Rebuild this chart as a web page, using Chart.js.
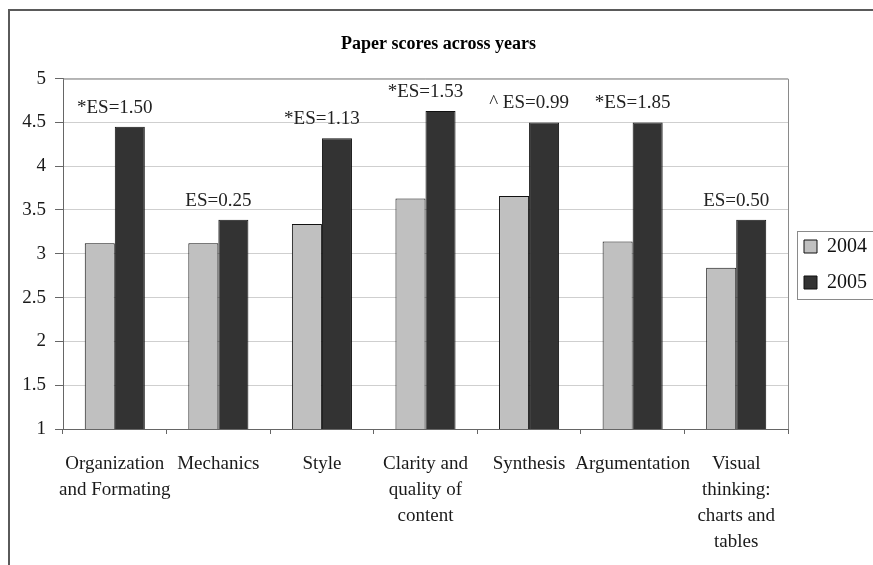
<!DOCTYPE html>
<html>
<head>
<meta charset="utf-8">
<script src="https://cdn.jsdelivr.net/npm/chart.js@4.4.1/dist/chart.umd.min.js"></script>
<style>
  html, body { margin: 0; padding: 0; background: #fff; }
</style>
</head>
<body>
<canvas id="paperScores" width="873" height="565"></canvas>
<script>
const categories = [
  ['Organization', 'and Formating'],
  'Mechanics',
  'Style',
  ['Clarity and', 'quality of', 'content'],
  'Synthesis',
  'Argumentation',
  ['Visual', 'thinking:', 'charts and', 'tables'],
];
const scores2004 = [3.12, 3.12, 3.34, 3.63, 3.66, 3.14, 2.84];
const scores2005 = [4.45, 3.39, 4.32, 4.63, 4.50, 4.50, 3.39];
const effectSizes = ['*ES=1.50', 'ES=0.25', '*ES=1.13', '*ES=1.53', '^ ES=0.99', '*ES=1.85', 'ES=0.50'];
const yTicks = [1, 1.5, 2, 2.5, 3, 3.5, 4, 4.5, 5];

const serif = 'Liberation Serif, Times New Roman, serif';

// outer chart frame (only the left and top edges fall inside the picture)
const framePlugin = {
  id: 'frame',
  afterLayout(chart) {
    // legend sits a bit above the middle of the plot in the original
    chart.legend.top -= 18;
    chart.legend.bottom -= 18;
  },
  beforeDraw(chart) {
    const ctx = chart.ctx;
    ctx.save();
    ctx.strokeStyle = '#5a5a5a';
    ctx.lineWidth = 2;
    ctx.beginPath();
    ctx.moveTo(9, chart.height);
    ctx.lineTo(9, 10);
    ctx.lineTo(chart.width, 10);
    ctx.stroke();
    ctx.restore();
  },
  beforeDatasetsDraw(chart) {
    const { ctx, chartArea: a } = chart;
    ctx.save();
    ctx.strokeStyle = '#8a8a8a';
    ctx.lineWidth = 1;
    ctx.beginPath();
    ctx.moveTo(a.left, a.top + 0.5);
    ctx.lineTo(a.right + 0.5, a.top + 0.5);
    ctx.lineTo(a.right + 0.5, a.bottom);
    ctx.stroke();
    ctx.restore();
  },
  afterDraw(chart) {
    const boxes = chart.legend && chart.legend.legendHitBoxes;
    if (!boxes || !boxes.length) return;
    const left = Math.min(...boxes.map(b => b.left)) - 7;
    const top = Math.min(...boxes.map(b => b.top)) - 6;
    const bottom = Math.max(...boxes.map(b => b.top + b.height)) + 6;
    const ctx = chart.ctx;
    ctx.save();
    ctx.strokeStyle = '#8a8a8a';
    ctx.lineWidth = 1;
    ctx.strokeRect(Math.round(left) + 0.5, Math.round(top) + 0.5, chart.width, Math.round(bottom - top));
    ctx.restore();
  },
};

// effect size notes above each category
const effectSizePlugin = {
  id: 'effectSizes',
  afterDatasetsDraw(chart) {
    const ctx = chart.ctx;
    const xScale = chart.scales.x;
    const m0 = chart.getDatasetMeta(0).data;
    const m1 = chart.getDatasetMeta(1).data;
    ctx.save();
    ctx.font = '19px ' + serif;
    ctx.fillStyle = '#222';
    ctx.textAlign = 'center';
    ctx.textBaseline = 'middle';
    effectSizes.forEach((txt, i) => {
      const top = Math.min(m0[i].y, m1[i].y);
      ctx.fillText(txt, xScale.getPixelForValue(i), top - 19);
    });
    ctx.restore();
  },
};

new Chart(document.getElementById('paperScores'), {
  type: 'bar',
  data: {
    labels: categories,
    datasets: [
      {
        label: '2004',
        data: scores2004,
        backgroundColor: '#c0c0c0',
        borderColor: '#111',
        borderWidth: 1,
        categoryPercentage: 0.58,
        barPercentage: 1,
      },
      {
        label: '2005',
        data: scores2005,
        backgroundColor: '#333333',
        borderColor: '#111',
        borderWidth: 1,
        categoryPercentage: 0.58,
        barPercentage: 1,
      },
    ],
  },
  options: {
    responsive: false,
    animation: false,
    layout: { padding: { left: 0, right: -4, top: 0, bottom: 0 } },
    plugins: {
      title: {
        display: true,
        text: 'Paper scores across years',
        color: '#000',
        font: { family: serif, size: 18, weight: 'bold' },
        padding: { top: 34, bottom: 23 },
      },
      legend: {
        position: 'right',
        labels: {
          color: '#111',
          font: { family: serif, size: 20 },
          boxWidth: 13,
          boxHeight: 13,
          padding: 16,
        },
      },
      tooltip: { enabled: false },
    },
    scales: {
      x: {
        afterFit: s => { s.height = 136; },
        grid: { drawOnChartArea: false, offset: true, tickLength: 5, color: '#666' },
        border: { color: '#666' },
        ticks: {
          color: '#1a1a1a',
          font: { family: serif, size: 19, lineHeight: 1.37 },
          padding: 17,
          maxRotation: 0,
          autoSkip: false,
        },
      },
      y: {
        min: 1,
        max: 5,
        afterFit: s => { s.width = 63; },
        afterBuildTicks: s => { s.ticks = yTicks.map(v => ({ value: v })); },
        grid: { color: '#cfcfcf', tickColor: '#666', tickLength: 8 },
        border: { color: '#666' },
        ticks: {
          color: '#1a1a1a',
          font: { family: serif, size: 19 },
          padding: 9,
          callback: v => String(v),
        },
      },
    },
  },
  plugins: [framePlugin, effectSizePlugin],
});
</script>
</body>
</html>
